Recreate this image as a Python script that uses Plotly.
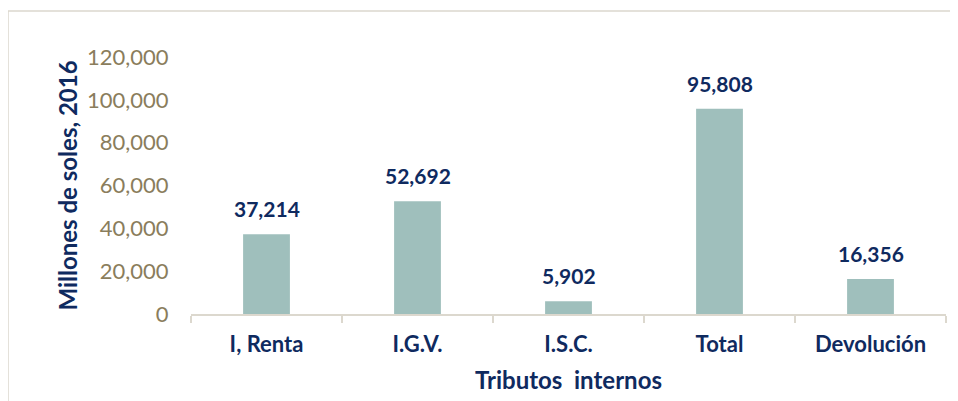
import plotly.graph_objects as go

categories = ["I, Renta", "I.G.V.", "I.S.C.", "Total", "Devolución"]
values = [37214, 52692, 5902, 95808, 16356]
y_ticks = [0, 20000, 40000, 60000, 80000, 100000, 120000]
y_ticklabels = ["0", "20,000", "40,000", "60,000", "80,000", "100,000", "120,000"]

navy = "#0f2a5f"
tan = "#8a7d5c"
font_family = "Lato, Calibri, sans-serif"

# page body adds 8px offset; margins compensate
L, T, R, B = 183, 49, 20, 95
W, H = 958, 401
plot_w = W - L - R
plot_h = H - T - B

fig = go.Figure(
    go.Bar(
        x=categories,
        y=values,
        marker=dict(color="#9fbfbc", line=dict(width=0)),
        cliponaxis=False,
        width=0.31,
        hoverinfo="x+y",
    )
)

for c, v in zip(categories, values):
    fig.add_annotation(
        x=c,
        y=v,
        xref="x",
        yref="y",
        text=f"{v:,}",
        showarrow=False,
        yanchor="bottom",
        yshift=11,
        font=dict(family=font_family, size=21, color=navy, weight="bold"),
    )

fig.update_layout(
    width=W,
    height=H,
    margin=dict(l=L, r=R, t=T, b=B),
    paper_bgcolor="white",
    plot_bgcolor="white",
    showlegend=False,
    xaxis=dict(
        type="category",
        showline=True,
        linecolor="#dcd8ce",
        linewidth=2,
        ticks="outside",
        tickson="boundaries",
        ticklen=7,
        tickcolor="#dcd8ce",
        tickwidth=1.5,
        ticklabelstandoff=10,
        tickfont=dict(family=font_family, size=22, color=navy, weight="bold"),
        showgrid=False,
        title=dict(
            text="Tributos  internos",
            font=dict(family=font_family, size=24, color=navy, weight="bold"),
            standoff=16,
        ),
    ),
    yaxis=dict(
        range=[0, 120000],
        tickvals=y_ticks,
        ticktext=y_ticklabels,
        showgrid=False,
        showline=False,
        zeroline=False,
        ticks="outside",
        ticklen=17,
        tickcolor="rgba(0,0,0,0)",
        tickfont=dict(family=font_family, size=22, color=tan),
        title=dict(
            text="Millones de soles, 2016",
            font=dict(family=font_family, size=24, color=navy, weight="bold"),
            standoff=2,
        ),
    ),
    shapes=[
        dict(
            type="rect",
            xref="paper",
            yref="paper",
            x0=(0 - L) / plot_w,
            x1=1.2,
            y0=-0.6,
            y1=(H - B - 3) / plot_h,
            line=dict(color="#dcd8ce", width=1.5),
            fillcolor="rgba(0,0,0,0)",
            layer="below",
        )
    ],
)

fig.write_html("out.html")
